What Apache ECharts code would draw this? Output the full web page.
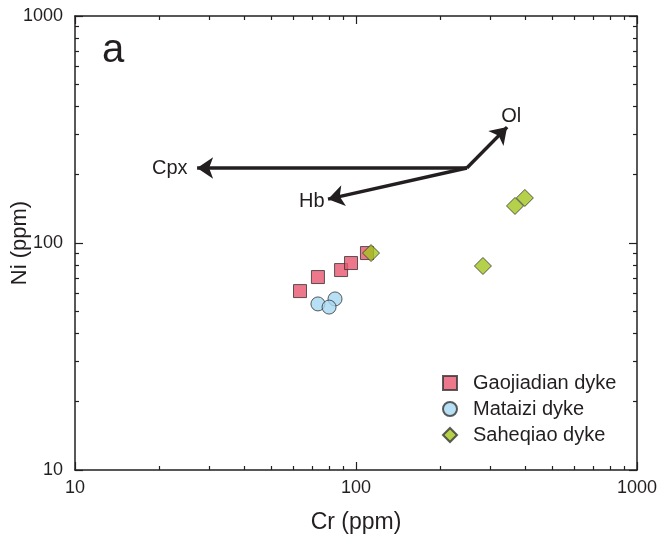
<!DOCTYPE html>
<html>
<head>
<meta charset="utf-8">
<script src="https://cdn.jsdelivr.net/npm/echarts@6/dist/echarts.min.js"></script>
<style>
html,body{margin:0;padding:0;background:#fff;}
#chart{width:661px;height:543px;}
</style>
</head>
<body>
<div id="chart"></div>
<script>
// ---- data ----
const gaojiadianCr = [63.2, 73.2, 88.5, 96.0, 109.4];
const gaojiadianNi = [61.4, 70.8, 76.0, 81.6, 90.3];
const mataiziCr = [73.2, 84.2, 80.2];
const mataiziNi = [53.9, 56.7, 52.2];
const saheqiaoCr = [113.1, 283, 368, 399];
const saheqiaoNi = [90.3, 79.2, 145.6, 157.9];
const vectorOrigin = [248, 214];
const vectorNames = ['Cpx', 'Hb', 'Ol'];
const vectorEnds = [[27.2, 214], [79.5, 156], [345, 324]];
const majorTicks = [10, 100, 1000];
const minorTicks = [20, 30, 40, 50, 60, 70, 80, 90, 200, 300, 400, 500, 600, 700, 800, 900];
const seriesNames = ['Gaojiadian dyke', 'Mataizi dyke', 'Saheqiao dyke'];

const FONT = '"Liberation Sans", Arial, Helvetica, sans-serif';
const INK = '#231f20';

function zip(a, b) { return a.map((v, i) => [v, b[i]]); }

function makeAxis(pos, kind, extra) {
  const major = kind === 'major';
  return Object.assign({
    type: 'log', logBase: 10, min: 10, max: 1000, position: pos,
    axisLine: { show: major, onZero: false, lineStyle: { color: INK, width: 1.5 } },
    axisTick: major
      ? { show: true, inside: true, length: 8, customValues: majorTicks, lineStyle: { color: INK, width: 1.2 } }
      : { show: true, inside: true, length: 4, customValues: minorTicks, lineStyle: { color: INK, width: 1.2 } },
    axisLabel: { show: false },
    splitLine: { show: false },
    minorTick: { show: false }
  }, extra || {});
}

const xAxes = [
  makeAxis('bottom', 'major', {
    name: 'Cr (ppm)', nameLocation: 'middle', nameGap: 41, nameMoveOverlap: false,
    nameTextStyle: { fontSize: 23, color: INK, fontFamily: FONT },
    axisLabel: { show: true, fontSize: 18, color: INK, fontFamily: FONT, margin: 9, customValues: majorTicks, formatter: v => String(v) }
  }),
  makeAxis('bottom', 'minor'),
  makeAxis('top', 'major'),
  makeAxis('top', 'minor')
];
const yAxes = [
  makeAxis('left', 'major', {
    name: 'Ni (ppm)', nameLocation: 'middle', nameGap: 44, nameMoveOverlap: false,
    nameTextStyle: { fontSize: 22, color: INK, fontFamily: FONT },
    axisLabel: { show: true, fontSize: 18, color: INK, fontFamily: FONT, margin: 12, customValues: majorTicks, formatter: v => String(v) }
  }),
  makeAxis('left', 'minor'),
  makeAxis('right', 'major'),
  makeAxis('right', 'minor')
];

const chart = echarts.init(document.getElementById('chart'), null, { renderer: 'canvas' });
chart.setOption({
  animation: false,
  backgroundColor: '#fff',
  textStyle: { fontFamily: FONT },
  grid: { left: 75, right: 24, top: 16, bottom: 73, containLabel: false, outerBoundsMode: 'none' },
  xAxis: xAxes,
  yAxis: yAxes,
  legend: {
    data: seriesNames,
    orient: 'vertical',
    left: 442, top: 373,
    padding: 0,
    itemWidth: 14, itemHeight: 14, itemGap: 6,
    textStyle: { fontSize: 20, color: INK, fontFamily: FONT, padding: [0, 0, 0, 11] }
  },
  graphic: [{
    type: 'text', left: 102, top: 31,
    style: { text: 'a', fontSize: 40, fill: INK, fontFamily: FONT }
  }],
  series: [
    {
      type: 'lines', coordinateSystem: 'cartesian2d', xAxisIndex: 0, yAxisIndex: 0,
      polyline: false, silent: true, z: 1,
      symbol: ['none', 'arrow'], symbolSize: [0, 16],
      lineStyle: { color: INK, width: 3.5, opacity: 1 },
      data: vectorEnds.map(e => ({ coords: [vectorOrigin, e] }))
    },
    {
      type: 'scatter', xAxisIndex: 0, yAxisIndex: 0, silent: true, z: 1,
      symbolSize: 1, itemStyle: { color: 'rgba(0,0,0,0)' },
      label: { show: true, formatter: p => p.name, fontSize: 20, color: INK, opacity: 1, textBorderWidth: 0, fontFamily: FONT },
      data: [
        { name: vectorNames[0], value: vectorEnds[0], label: { position: 'left', distance: 9 } },
        { name: vectorNames[1], value: vectorEnds[1], label: { position: 'left', distance: 3, offset: [0, 2] } },
        { name: vectorNames[2], value: vectorEnds[2], label: { position: 'top', distance: 1, offset: [4, 1] } }
      ]
    },
    {
      name: seriesNames[0], type: 'scatter', xAxisIndex: 0, yAxisIndex: 0, z: 3,
      symbol: 'rect', symbolSize: 13,
      itemStyle: { color: '#e9566f', borderColor: '#333', borderWidth: 1 },
      data: zip(gaojiadianCr, gaojiadianNi)
    },
    {
      name: seriesNames[1], type: 'scatter', xAxisIndex: 0, yAxisIndex: 0, z: 3,
      symbol: 'circle', symbolSize: 14,
      itemStyle: { color: '#a6d8f2', borderColor: '#333', borderWidth: 1 },
      data: zip(mataiziCr, mataiziNi)
    },
    {
      name: seriesNames[2], type: 'scatter', xAxisIndex: 0, yAxisIndex: 0, z: 4,
      symbol: 'diamond', symbolSize: 17,
      itemStyle: { color: '#a3c41d', borderColor: '#333', borderWidth: 1 },
      data: zip(saheqiaoCr, saheqiaoNi)
    }
  ]
});
</script>
</body>
</html>
